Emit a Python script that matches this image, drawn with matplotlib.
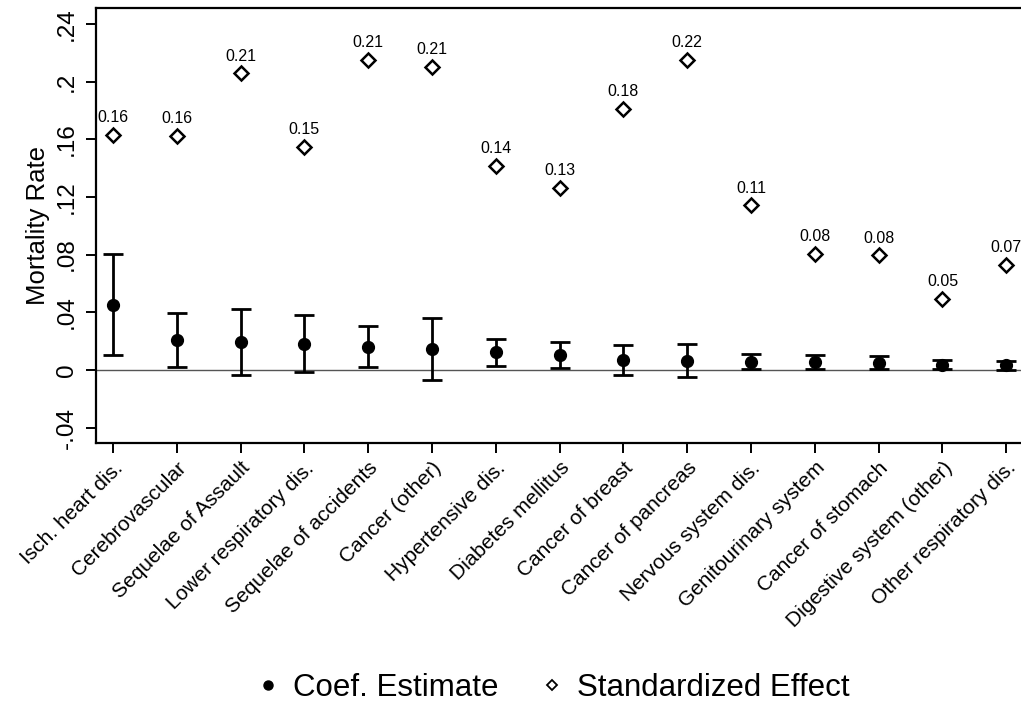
import matplotlib
matplotlib.use("Agg")
import matplotlib.pyplot as plt
from matplotlib.lines import Line2D
import numpy as np

plt.rcParams['font.family'] = ['Liberation Sans', 'DejaVu Sans']

categories = ["Isch. heart dis.", "Cerebrovascular", "Sequelae of Assault",
              "Lower respiratory dis.", "Sequelae of accidents", "Cancer (other)",
              "Hypertensive dis.", "Diabetes mellitus", "Cancer of breast",
              "Cancer of pancreas", "Nervous system dis.", "Genitourinary system",
              "Cancer of stomach", "Digestive system (other)", "Other respiratory dis."]

coef = [0.0453, 0.0208, 0.0192, 0.0182, 0.0162, 0.0146, 0.0123, 0.0102, 0.0071,
        0.0062, 0.0053, 0.0053, 0.0051, 0.0037, 0.0032]
ci_high = [0.0806, 0.0397, 0.0421, 0.0381, 0.0307, 0.0363, 0.0217, 0.0192, 0.0176,
           0.0178, 0.0109, 0.0106, 0.0097, 0.0067, 0.0062]
ci_low = [0.0106, 0.0023, -0.0035, -0.0014, 0.0023, -0.0069, 0.0028, 0.0012, -0.0032,
          -0.0051, 0.0007, 0.0007, 0.0009, 0.0007, 0.0000]

std_effect = [0.1629, 0.1622, 0.2057, 0.1546, 0.2149, 0.2103, 0.1416, 0.1264, 0.1809,
              0.2149, 0.1142, 0.0804, 0.0795, 0.0494, 0.0728]
std_labels = ["0.16", "0.16", "0.21", "0.15", "0.21", "0.21", "0.14", "0.13", "0.18",
              "0.22", "0.11", "0.08", "0.08", "0.05", "0.07"]

yticks = [-0.04, 0, 0.04, 0.08, 0.12, 0.16, 0.2, 0.24]
ytick_labels = ["-.04", "0", ".04", ".08", ".12", ".16", ".2", ".24"]

W, H = 1021, 708
fig = plt.figure(figsize=(W / 100, H / 100), dpi=100)
ax = fig.add_axes([96 / W, (H - 443) / H, (1035 - 96) / W, (443 - 8) / H])

x = np.arange(1, len(categories) + 1)

ax.axhline(0, color='#555555', lw=1.0, zorder=1)

coef_a = np.array(coef)
yerr = np.vstack([coef_a - np.array(ci_low), np.array(ci_high) - coef_a])
ax.errorbar(x, coef, yerr=yerr, fmt='o', color='black', ms=8.5,
            elinewidth=2.0, capsize=7.5, capthick=2.0, zorder=3)

ax.plot(x, std_effect, linestyle='none', marker='D', ms=7.2, mfc='white',
        mec='black', mew=1.8, zorder=3)
for xi, yi, lab in zip(x, std_effect, std_labels):
    ax.annotate(lab, (xi, yi), xytext=(0, 7), textcoords='offset points',
                ha='center', va='bottom', fontsize=11.5)

ax.set_xlim(0.734, 15.45)
ax.set_ylim(-0.0507, 0.251)

ax.set_yticks(yticks)
ax.set_yticklabels(ytick_labels, rotation=90, va='center', fontsize=17.5)
ax.set_xticks(x)
ax.set_xticklabels(categories, rotation=45, ha='right', rotation_mode='anchor',
                   fontsize=15)
ax.tick_params(axis='both', direction='out', length=7, width=1.4, color='black')
ax.tick_params(axis='y', pad=6)
ax.tick_params(axis='x', pad=4)

ax.set_ylabel("Mortality Rate", fontsize=18.5, labelpad=4)

for side in ['left', 'bottom', 'top']:
    ax.spines[side].set_linewidth(1.6)
    ax.spines[side].set_color('black')
ax.spines['right'].set_visible(False)

handles = [Line2D([], [], linestyle='none', marker='o', color='black', ms=6.5),
           Line2D([], [], linestyle='none', marker='D', mfc='white', mec='black',
                  mew=1.3, ms=5.5)]
fig.legend(handles, ["Coef. Estimate", "Standardized Effect"], loc='center',
           bbox_to_anchor=(554 / W, 1 - 688 / H), ncol=2, frameon=False,
           fontsize=22.5, handlelength=0.6, handletextpad=0.5, columnspacing=1.4)

fig.savefig("out.png", dpi=100)
